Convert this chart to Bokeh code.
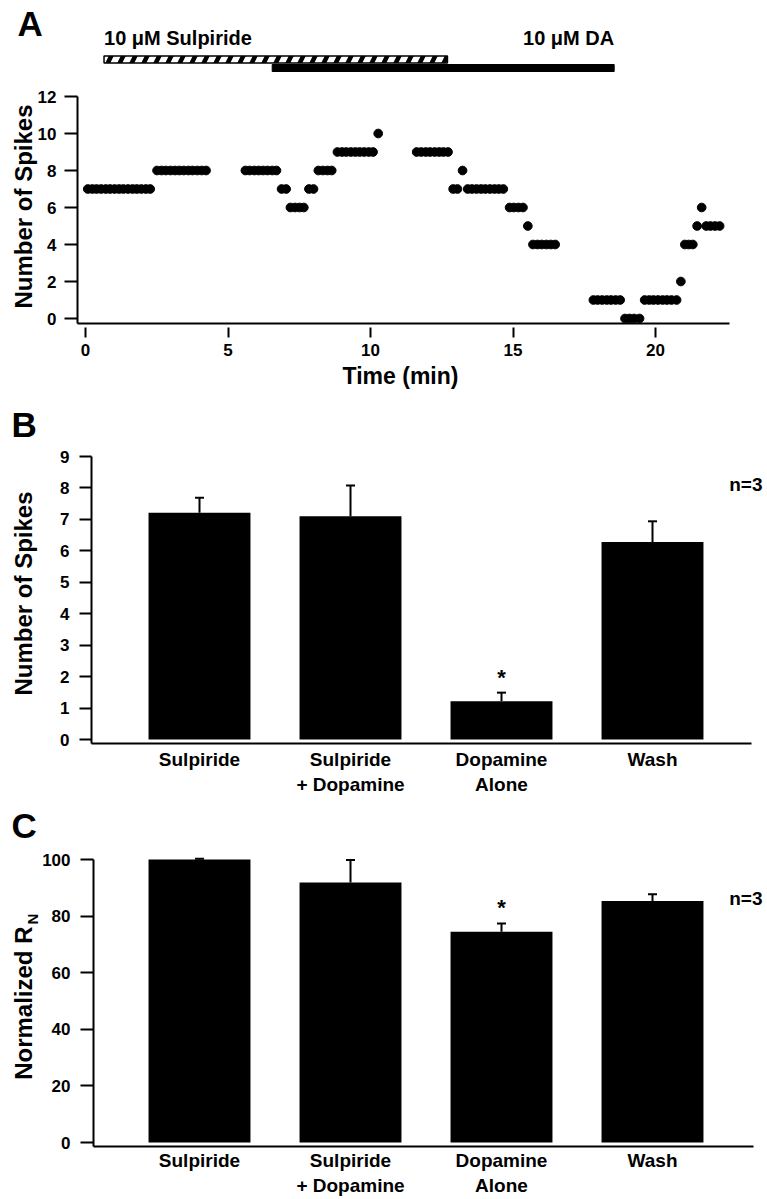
import math
from bokeh.plotting import figure
from bokeh.models import Range1d, Label, FixedTicker, Whisker, TeeHead, ColumnDataSource
from bokeh.layouts import column
from bokeh.embed import file_html
from bokeh.resources import INLINE

# ---------------- data ----------------
# Panel A: spikes per sweep over time (min)
time_min = [
    0.08, 0.24, 0.39, 0.55, 0.71, 0.86, 1.02, 1.18, 1.33, 1.49, 1.65, 1.80, 1.96, 2.12, 2.27,
    2.51, 2.67, 2.82, 2.98, 3.14, 3.29, 3.45, 3.61, 3.76, 3.92, 4.08, 4.23,
    5.61, 5.76, 5.92, 6.08, 6.23, 6.39, 6.55, 6.70,
    6.88, 7.04,
    7.19, 7.35, 7.51, 7.66,
    7.84, 8.00,
    8.17, 8.33, 8.49, 8.64,
    8.84, 9.00, 9.15, 9.31, 9.47, 9.62, 9.78, 9.94, 10.09,
    10.27,
    11.62, 11.78, 11.94, 12.09, 12.25, 12.41, 12.56, 12.72,
    12.90, 13.05,
    13.23,
    13.41, 13.56, 13.72, 13.88, 14.03, 14.19, 14.35, 14.50, 14.66,
    14.88, 15.03, 15.19, 15.35,
    15.52,
    15.70, 15.86, 16.01, 16.17, 16.33, 16.48,
    17.82, 17.97, 18.13, 18.29, 18.44, 18.60, 18.76,
    18.93, 19.09, 19.25, 19.44,
    19.62, 19.78, 19.93, 20.09, 20.25, 20.40, 20.56, 20.74,
    20.89,
    21.03, 21.17, 21.31,
    21.46,
    21.62,
    21.78, 21.93, 22.09, 22.25,
]
spike_count = [
    7, 7, 7, 7, 7, 7, 7, 7, 7, 7, 7, 7, 7, 7, 7,
    8, 8, 8, 8, 8, 8, 8, 8, 8, 8, 8, 8,
    8, 8, 8, 8, 8, 8, 8, 8,
    7, 7,
    6, 6, 6, 6,
    7, 7,
    8, 8, 8, 8,
    9, 9, 9, 9, 9, 9, 9, 9, 9,
    10,
    9, 9, 9, 9, 9, 9, 9, 9,
    7, 7,
    8,
    7, 7, 7, 7, 7, 7, 7, 7, 7,
    6, 6, 6, 6,
    5,
    4, 4, 4, 4, 4, 4,
    1, 1, 1, 1, 1, 1, 1,
    0, 0, 0, 0,
    1, 1, 1, 1, 1, 1, 1, 1,
    2,
    4, 4, 4,
    5,
    6,
    5, 5, 5, 5,
]
time_ticks = [0, 5, 10, 15, 20]
spike_ticks_a = [0, 2, 4, 6, 8, 10, 12]

drug_labels = ["10 \u03bcM Sulpiride", "10 \u03bcM DA"]
drug_start = [0.65, 6.55]
drug_end = [12.70, 18.55]

# Panels B and C: group means (+ error)
categories = ["Sulpiride", "Sulpiride\n+ Dopamine", "Dopamine\nAlone", "Wash"]
spikes_mean = [7.21, 7.10, 1.22, 6.28]
spikes_err = [0.48, 0.98, 0.27, 0.66]
spike_ticks_b = [0, 1, 2, 3, 4, 5, 6, 7, 8, 9]
rn_mean = [100.0, 91.9, 74.5, 85.3]
rn_err = [0.3, 7.9, 2.9, 2.45]
rn_ticks = [0, 20, 40, 60, 80, 100]
significant = [False, False, True, False]
n_text = "n=3"

FONT = "Liberation Sans"
PAGE_W = 767
BASE_SHIFT = 0.36  # label anchor correction (fraction of font size)


def make_map(top, height, x_px0, x_ppu, y_px0, y_ppu):
    """Pixel <-> data mapping for a figure whose frame fills the whole canvas."""
    X = lambda px: (px - x_px0) / x_ppu
    Y = lambda py: (y_px0 - py) / y_ppu
    return X, Y, Range1d(X(0), X(PAGE_W)), Range1d(Y(top + height), Y(top))


def new_fig(height, xr, yr):
    p = figure(width=PAGE_W, height=height, x_range=xr, y_range=yr,
               output_backend="svg", toolbar_location=None, title=None, min_border=0,
               background_fill_color="white", border_fill_color="white")
    p.xgrid.visible = False
    p.ygrid.visible = False
    p.outline_line_color = None
    for ax in (p.xaxis[0], p.yaxis[0]):
        ax.axis_line_width = 2
        ax.axis_line_color = "black"
        ax.major_tick_line_width = 2
        ax.major_tick_line_color = "black"
        ax.minor_tick_line_color = None
        ax.major_label_text_font = FONT
        ax.major_label_text_font_style = "bold"
        ax.major_label_text_color = "black"
    return p


def text_at(p, X, Y, text, px, py, size, align="left", angle=0.0):
    """Place text with its baseline at page pixel (px, py)."""
    if angle == 0.0:
        x, y = X(px), Y(py - BASE_SHIFT * size)
    else:
        x, y = X(px - BASE_SHIFT * size), Y(py)
    p.add_layout(Label(x=x, y=y, text=text, angle=angle,
                       text_font=FONT, text_font_style="bold", text_font_size=f"{size}px",
                       text_color="black", text_align=align, text_baseline="alphabetic"))


# ---------------- Panel A (page y 0..394) ----------------
HA = 394
XA, YA, xrA, yrA = make_map(0, HA, 85, 28.5, 318, 18.5)
pA = new_fig(HA, xrA, yrA)
pA.yaxis.fixed_location = XA(77)
pA.yaxis.bounds = (YA(323), 12)
pA.yaxis.ticker = FixedTicker(ticks=spike_ticks_a)
pA.yaxis.major_tick_in = 0
pA.yaxis.major_tick_out = 13
pA.yaxis.major_label_standoff = 8
pA.yaxis.major_label_text_font_size = "17px"
pA.xaxis.fixed_location = YA(323)
pA.xaxis.bounds = (XA(77), XA(729))
pA.xaxis.ticker = FixedTicker(ticks=time_ticks)
pA.xaxis.major_tick_in = -4
pA.xaxis.major_tick_out = 14
pA.xaxis.major_label_standoff = 6
pA.xaxis.major_label_text_font_size = "17px"

pA.scatter(time_min, spike_count, size=8.7, fill_color="black", line_color="black")

# drug application bars
pA.quad(left=[drug_start[0]], right=[drug_end[0]], bottom=YA(62.5), top=YA(55.5),
        fill_color="white", line_color="black", line_width=1.5,
        hatch_pattern="/", hatch_scale=24, hatch_weight=4.5, hatch_color="black")
pA.quad(left=[drug_start[1]], right=[drug_end[1]], bottom=YA(71), top=YA(64),
        fill_color="black", line_color="black")
pA.add_layout(Label(x=drug_start[0], y=YA(45 - BASE_SHIFT * 20), text=drug_labels[0],
                    text_font=FONT, text_font_style="bold", text_font_size="20px",
                    text_color="black", text_align="left", text_baseline="alphabetic"))
pA.add_layout(Label(x=drug_end[1], y=YA(45 - BASE_SHIFT * 20), text=drug_labels[1],
                    text_font=FONT, text_font_style="bold", text_font_size="20px",
                    text_color="black", text_align="right", text_baseline="alphabetic"))

text_at(pA, XA, YA, "A", 17, 36, 35)
text_at(pA, XA, YA, "Time (min)", 400, 384, 23, "center")
text_at(pA, XA, YA, "Number of Spikes", 32, 206, 24, "center", math.pi / 2)

# ---------------- Panels B / C ----------------
xs = list(range(len(categories)))
overrides = {i: c for i, c in zip(xs, categories)}


def bar_panel(top, height, y_px0, y_ppu, frame_left, frame_right, axis_y,
              means, errs, yticks, ytop, ytick_out, ystandoff, xstandoff, star_off):
    X, Y, xr, yr = make_map(top, height, 199, 151, y_px0, y_ppu)
    p = new_fig(height, xr, yr)
    p.yaxis.fixed_location = X(frame_left)
    p.yaxis.bounds = (Y(axis_y), ytop)
    p.yaxis.ticker = FixedTicker(ticks=yticks)
    p.yaxis.major_tick_in = 0
    p.yaxis.major_tick_out = ytick_out
    p.yaxis.major_label_standoff = ystandoff
    p.yaxis.major_label_text_font_size = "17px"
    p.xaxis.fixed_location = Y(axis_y)
    p.xaxis.bounds = (X(frame_left), X(frame_right))
    p.xaxis.ticker = FixedTicker(ticks=xs)
    p.xaxis.major_label_overrides = overrides
    p.xaxis.major_tick_out = 0
    p.xaxis.major_tick_in = 0
    p.xaxis.major_label_standoff = xstandoff
    p.xaxis.major_label_text_font_size = "19px"
    p.vbar(x=xs, top=means, bottom=0, width=0.675, fill_color="black", line_color=None)
    upper = [m + e for m, e in zip(means, errs)]
    src = ColumnDataSource(dict(x=xs, lower=means, upper=upper))
    p.add_layout(Whisker(source=src, base="x", lower="lower", upper="upper",
                         line_color="black", line_width=2, lower_head=None,
                         upper_head=TeeHead(size=9, line_color="black", line_width=2)))
    for i, s in enumerate(significant):
        if s:
            p.add_layout(Label(x=xs[i], y=upper[i], y_offset=star_off, text="*",
                               text_font=FONT, text_font_style="bold", text_font_size="22px",
                               text_color="black", text_align="center",
                               text_baseline="alphabetic"))
    return p, X, Y


# Panel B (page y 394..799)
pB, XB, YB = bar_panel(394, 405, 739, 31.44, 91, 751, 743,
                       spikes_mean, spikes_err, spike_ticks_b, 9, 12, 10, 5, 15)
text_at(pB, XB, YB, "B", 11, 437, 35)
text_at(pB, XB, YB, n_text, 762, 491, 19, "right")
text_at(pB, XB, YB, "Number of Spikes", 32, 593, 24, "center", math.pi / 2)

# Panel C (page y 799..1197)
pC, XC, YC = bar_panel(799, 398, 1142, 2.83, 93, 753, 1146,
                       rn_mean, rn_err, rn_ticks, 100, 13, 10, 3, 16)
text_at(pC, XC, YC, "C", 11, 838, 35)
text_at(pC, XC, YC, n_text, 762, 905, 19, "right")
text_at(pC, XC, YC, "Normalized R", 32, 926, 24, "right", math.pi / 2)
text_at(pC, XC, YC, "N", 37, 924, 15, "left", math.pi / 2)

layout = column(pA, pB, pC, spacing=0)
open("out.html", "w").write(file_html(layout, INLINE))
